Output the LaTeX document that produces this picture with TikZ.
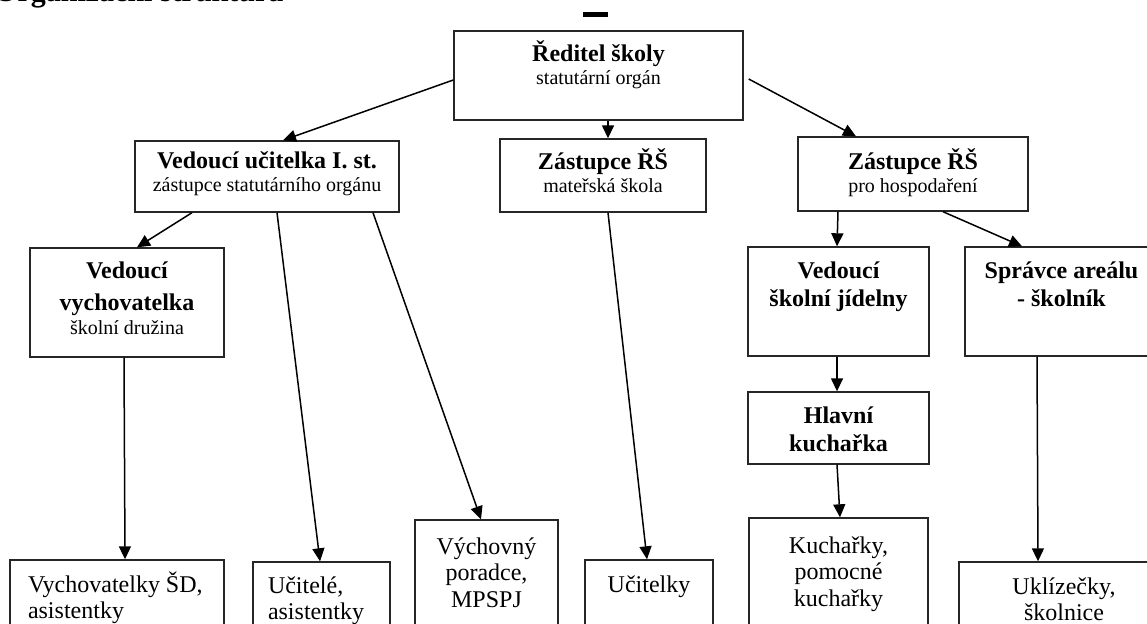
\documentclass[tikz,border=0pt]{standalone}
\usepackage{fontspec}
\setmainfont{Liberation Serif}
\usepackage{tikz}
\usetikzlibrary{arrows.meta}

\newcommand{\headfont}{\fontsize{24}{28}\selectfont\bfseries}
\newcommand{\rolefont}{\fontsize{20}{23}\selectfont\mdseries}
\newcommand{\staffont}{\fontsize{24}{26.5}\selectfont}
% box text: width, height, first baseline, lines
\newcommand{\boxtxt}[4]{\parbox[c][#2][t]{#1}{\lineskiplimit=-50pt\centering\rule{0pt}{#3}#4}}
\newcommand{\boxtxtl}[5]{\parbox[c][#2][t]{#1}{\lineskiplimit=-50pt\raggedright\leftskip=#4\rule{0pt}{#3}#5}}

\begin{document}
\begin{tikzpicture}[x=1pt, y=-1pt,
    orgbox/.style={draw=black!85, line width=1.4pt, inner sep=0pt, fill=white},
    link/.style={line width=1.5pt, -{Triangle[length=13pt,width=12pt]}}]
    \useasboundingbox[fill=white] (0,0) rectangle (1147,623);

    % heading, cut at the top
    \node[anchor=base west, inner sep=0pt, font=\fontsize{30}{34}\selectfont\bfseries] (title) at (-6,2) {Organizační struktura};
    \fill (583,12.5) rectangle (608,17.5);

    % management
    \node[orgbox] (reditel) at (598.5,75.5) {\boxtxt{289pt}{89pt}{31pt}{\headfont Ředitel školy\\\rolefont statutární orgán}};
    \node[orgbox] (ucitelka) at (267,176.5) {\boxtxt{264pt}{71pt}{27pt}{\headfont Vedoucí učitelka I. st.\\\rolefont zástupce statutárního orgánu}};
    \node[orgbox] (zastupceMS) at (603,175.5) {\boxtxt{206pt}{73pt}{30pt}{\headfont Zástupce ŘŠ\\\rolefont mateřská škola}};
    \node[orgbox] (zastupceHosp) at (913,174) {\boxtxt{230pt}{74pt}{32pt}{\headfont Zástupce ŘŠ\\\rolefont pro hospodaření}};

    % middle level
    \node[orgbox] (vychovatelka) at (127,302.5) {\boxtxt{194pt}{109pt}{30pt}{\headfont Vedoucí\\[4pt]vychovatelka\\[1pt]\rolefont školní družina}};
    \node[orgbox] (jidelna) at (838.5,301.5) {\boxtxt{181pt}{109pt}{31pt}{\headfont Vedoucí\\školní jídelny}};
    \node[orgbox] (spravce) at (1061.5,301.5) {\boxtxt{193pt}{109pt}{31pt}{\headfont Správce areálu\\- školník}};
    \node[orgbox] (kucharka) at (838.5,428) {\boxtxt{181pt}{72pt}{31pt}{\headfont Hlavní\\kuchařka}};

    % staff
    \node[orgbox] (vychovatelky) at (117,610) {\boxtxtl{214pt}{100pt}{32pt}{18pt}{\staffont Vychovatelky ŠD,\\asistentky}};
    \node[orgbox] (ucitele) at (321.5,611) {\boxtxtl{137pt}{98pt}{31pt}{15pt}{\staffont Učitelé,\\asistentky}};
    \node[orgbox] (poradce) at (486.5,590) {\boxtxt{143pt}{140pt}{34pt}{\staffont Výchovný\\poradce,\\MPSPJ}};
    \node[orgbox] (ucitelky) at (649,610) {\boxtxt{128pt}{100pt}{32pt}{\staffont Učitelky}};
    \node[orgbox] (kucharky) at (838.5,589) {\boxtxt{179pt}{142pt}{35pt}{\staffont Kuchařky,\\pomocné\\kuchařky}};
    \node[orgbox] (uklizecky) at (1064,611) {\boxtxt{210pt}{98pt}{32pt}{\staffont Uklízečky,\\školnice}};

    % connections
    \draw[link] ([yshift=-4.5pt]reditel.west) -- ([xshift=16pt]ucitelka.north);
    \draw[link] ([xshift=9.5pt]reditel.south) -- ([xshift=5pt]zastupceMS.north);
    \draw[link] ([xshift=5pt,yshift=-3.5pt]reditel.east) -- ([xshift=-57pt]zastupceHosp.north);
    \draw[link] ([xshift=-75pt]ucitelka.south) -- ([xshift=10pt]vychovatelka.north);
    \draw[link] ([xshift=10pt]ucitelka.south) -- ([xshift=-1.5pt]ucitele.north);
    \draw[link] ([xshift=106pt]ucitelka.south) -- ([xshift=-5.5pt]poradce.north);
    \draw[link] ([xshift=5pt]zastupceMS.south) -- ([xshift=-2pt]ucitelky.north);
    \draw[link] ([xshift=-75pt]zastupceHosp.south) -- ([xshift=-1.5pt]jidelna.north);
    \draw[link] ([xshift=30pt]zastupceHosp.south) -- ([xshift=-39.5pt]spravce.north);
    \draw[link] ([xshift=-3pt]vychovatelka.south) -- ([xshift=8pt]vychovatelky.north);
    \draw[link] ([xshift=-1.5pt]jidelna.south) -- ([xshift=-1.5pt]kucharka.north);
    \draw[link] ([xshift=-1.5pt]kucharka.south) -- ([xshift=1.5pt]kucharky.north);
    \draw[link] ([xshift=-24.5pt]spravce.south) -- ([xshift=-26pt]uklizecky.north);
\end{tikzpicture}
\end{document}
